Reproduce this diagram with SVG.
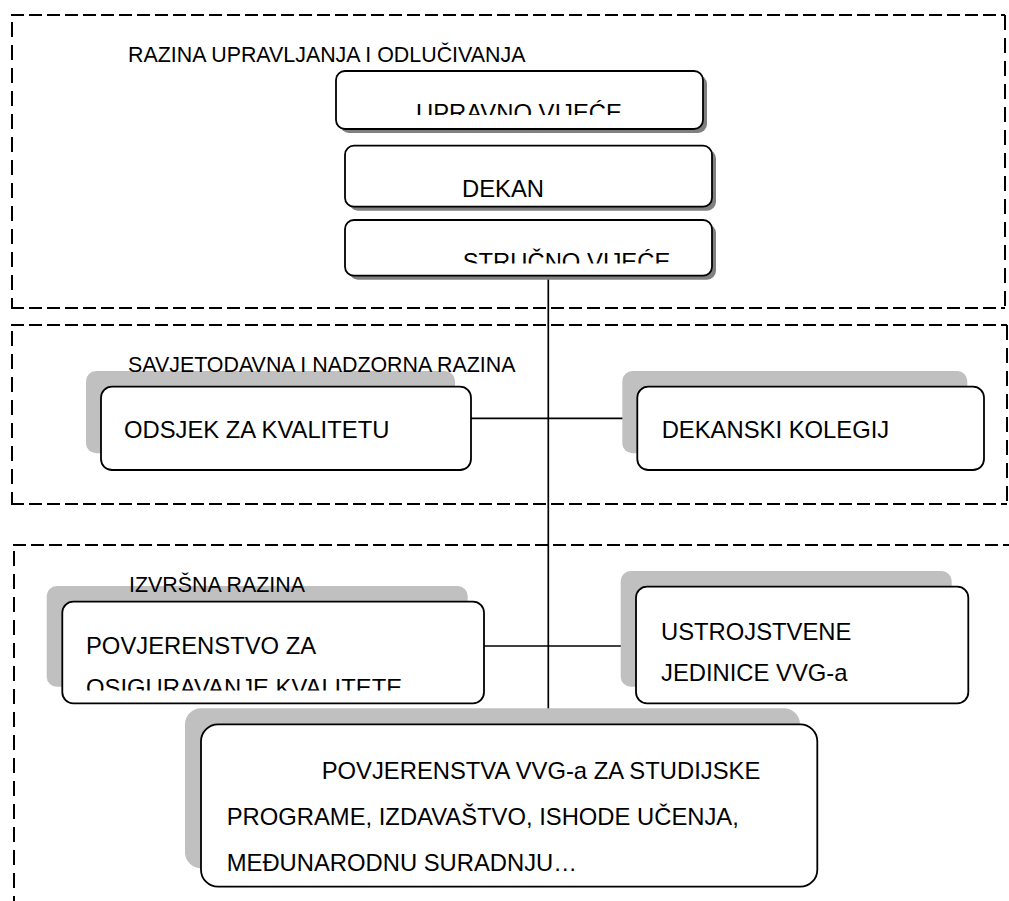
<svg xmlns="http://www.w3.org/2000/svg" width="1009" height="901" viewBox="0 0 1009 901">
<style>
.hd{stroke:#000;stroke-width:2;stroke-dasharray:13 5;fill:none}
.vd{stroke:#000;stroke-width:2;stroke-dasharray:15 8;fill:none}
.box{fill:#fff;stroke:#000;stroke-width:1.8}
.dsh{fill:#808080}
.lsh{fill:#c0c0c0}
.lbl{font-family:"Liberation Sans",Arial,sans-serif;font-size:21.4px;fill:#000}
.txt{font-family:"Liberation Sans",Arial,sans-serif;font-size:23.8px;fill:#000}
.con{stroke:#000;stroke-width:1.7;fill:none}
</style>
<defs>
<clipPath id="c1"><rect x="336" y="71" width="367" height="44"/></clipPath>
<clipPath id="c2"><rect x="345" y="220" width="367" height="43.5"/></clipPath>
<clipPath id="c3"><rect x="62" y="601" width="422" height="89.5"/></clipPath>
</defs>
<rect width="1009" height="901" fill="#fff"/>
<g id="levels">
<line class="hd" x1="11" y1="15" x2="1005" y2="15"/>
<line class="hd" x1="11" y1="308" x2="1005" y2="308"/>
<line class="vd" x1="12" y1="22" x2="12" y2="308"/>
<line class="vd" x1="1005" y1="15" x2="1005" y2="308"/>
<line class="hd" x1="11" y1="325" x2="1007" y2="325"/>
<line class="hd" x1="11" y1="504" x2="1007" y2="504"/>
<line class="vd" x1="12" y1="331" x2="12" y2="504"/>
<line class="vd" x1="1007" y1="325" x2="1007" y2="504"/>
<line class="hd" x1="13" y1="545" x2="1009" y2="545"/>
<line class="vd" x1="14" y1="551" x2="14" y2="901"/>
<text class="lbl" x="128" y="62">RAZINA UPRAVLJANJA I ODLUČIVANJA</text>
</g>
<g id="connectors">
<line class="con" x1="548.3" y1="275.7" x2="548.3" y2="724.3"/>
<line class="con" x1="471" y1="418.3" x2="637.3" y2="418.3"/>
<line class="con" x1="484" y1="646" x2="636" y2="646"/>
</g>
<g id="upravno-vijece">
<rect class="dsh" x="340" y="75" width="367" height="58" rx="9"/>
<rect class="box" x="336" y="71" width="367" height="58" rx="9"/>
<text class="txt" x="416" y="121" clip-path="url(#c1)">UPRAVNO VIJEĆE</text>
</g>
<g id="dekan">
<rect class="dsh" x="349" y="149.7" width="367" height="61" rx="9"/>
<rect class="box" x="345" y="145.7" width="367" height="61" rx="9"/>
<text class="txt" x="462" y="196.7">DEKAN</text>
</g>
<g id="strucno-vijece">
<rect class="dsh" x="349" y="224" width="367" height="55.7" rx="9"/>
<rect class="box" x="345" y="220" width="367" height="55.7" rx="9"/>
<text class="txt" x="462.7" y="270" clip-path="url(#c2)">STRUČNO VIJEĆE</text>
</g>
<g id="odsjek">
<rect class="lsh" x="86" y="371" width="369" height="82.3" rx="10"/>
<text class="lbl" x="128" y="371.5">SAVJETODAVNA I NADZORNA RAZINA</text>
<rect class="box" x="101" y="386.7" width="370" height="83.3" rx="11"/>
<text class="txt" x="124" y="438.3">ODSJEK ZA KVALITETU</text>
</g>
<g id="dekanski-kolegij">
<rect class="lsh" x="622.3" y="371" width="345" height="82.3" rx="10"/>
<rect class="box" x="637.3" y="386.7" width="346.7" height="83.3" rx="11"/>
<text class="txt" x="661.7" y="438.3">DEKANSKI KOLEGIJ</text>
</g>
<g id="povjerenstvo-kvaliteta">
<rect class="lsh" x="46.7" y="586" width="421" height="100.7" rx="10"/>
<text class="lbl" x="129" y="592">IZVRŠNA RAZINA</text>
<rect class="box" x="62.3" y="601.7" width="421.7" height="101.6" rx="11"/>
<g clip-path="url(#c3)">
<text class="txt" x="86" y="654.3">POVJERENSTVO ZA</text>
<text class="txt" x="86" y="696">OSIGURAVANJE KVALITETE</text>
</g>
</g>
<g id="ustrojstvene-jedinice">
<rect class="lsh" x="620.7" y="571" width="331" height="115.7" rx="10"/>
<rect class="box" x="636" y="586.7" width="332.3" height="116.6" rx="11"/>
<text class="txt" x="661" y="640">USTROJSTVENE</text>
<text class="txt" x="661" y="680.7">JEDINICE VVG-a</text>
</g>
<g id="povjerenstva-vvg">
<rect class="lsh" x="185" y="708.3" width="615" height="160" rx="16"/>
<rect class="box" x="201" y="724.3" width="616.3" height="162.4" rx="17"/>
<text class="txt" x="321.7" y="779.3">POVJERENSTVA VVG-a ZA STUDIJSKE</text>
<text class="txt" x="226.7" y="825">PROGRAME, IZDAVAŠTVO, ISHODE UČENJA,</text>
<text class="txt" x="226.7" y="870.7">MEĐUNARODNU SURADNJU…</text>
</g>
</svg>
